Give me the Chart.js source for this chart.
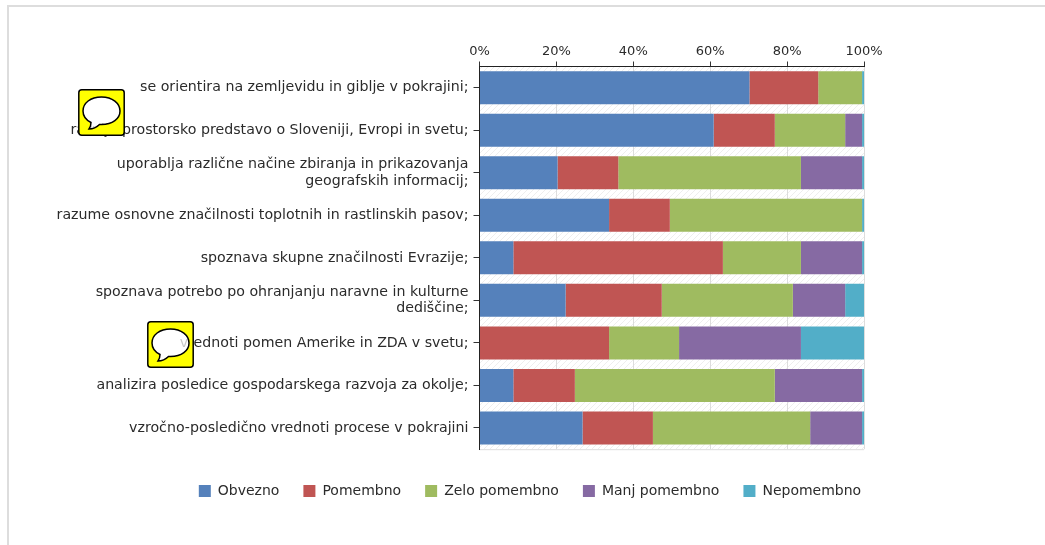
<!DOCTYPE html>
<html>
<head>
<meta charset="utf-8">
<script src="https://cdn.jsdelivr.net/npm/chart.js@4/dist/chart.umd.min.js"></script>
<style>
html, body { margin: 0; padding: 0; background: #fff; overflow: hidden; }
#frame { position: absolute; left: 7px; top: 5px; width: 1038px; height: 540px; border-left: 2px solid #ddd; border-top: 2px solid #ddd; box-sizing: border-box; }
#wrap { position: absolute; left: 15px; top: 0; width: 1030px; height: 545px; }
.note { position: absolute; width: 47px; height: 47px; }
</style>
</head>
<body>
<div id="frame"></div>
<div id="wrap"><canvas id="myChart"></canvas></div>
<svg class="note" style="left:78px;top:89px" viewBox="0 0 47 47"><path fill-rule="evenodd" d="M3.800 .8h39.400a3 3 0 0 1 3 3v39.400a3 3 0 0 1-3 3H3.800a3 3 0 0 1-3-3V3.800a3 3 0 0 1 3-3zM23.500 8C12.500 8 5 14 5 22c0 5 3 9 8 11.500 0 3-1 5-2 6.500 4 0 8-2 10.500-4.500 1 .1 1.500 .1 2 .1 11 0 18.500-6 18.500-13.600S34.500 8 23.500 8z" fill="#ffff00"/><rect x="0.8" y="0.8" width="45.400" height="45.400" rx="3" fill="none" stroke="#000" stroke-width="1.500"/><path d="M23.500 8C12.500 8 5 14 5 22c0 5 3 9 8 11.500 0 3-1 5-2 6.500 4 0 8-2 10.500-4.500 1 .1 1.500 .1 2 .1 11 0 18.500-6 18.500-13.600S34.500 8 23.500 8z" fill="#fff" fill-opacity="0.75" stroke="#000" stroke-width="1.500"/></svg>
<svg class="note" style="left:147px;top:321px" viewBox="0 0 47 47"><path fill-rule="evenodd" d="M3.800 .8h39.400a3 3 0 0 1 3 3v39.400a3 3 0 0 1-3 3H3.800a3 3 0 0 1-3-3V3.800a3 3 0 0 1 3-3zM23.500 8C12.500 8 5 14 5 22c0 5 3 9 8 11.500 0 3-1 5-2 6.500 4 0 8-2 10.500-4.500 1 .1 1.500 .1 2 .1 11 0 18.500-6 18.500-13.600S34.500 8 23.500 8z" fill="#ffff00"/><rect x="0.8" y="0.8" width="45.400" height="45.400" rx="3" fill="none" stroke="#000" stroke-width="1.500"/><path d="M23.500 8C12.500 8 5 14 5 22c0 5 3 9 8 11.500 0 3-1 5-2 6.500 4 0 8-2 10.500-4.500 1 .1 1.500 .1 2 .1 11 0 18.500-6 18.500-13.600S34.500 8 23.500 8z" fill="#fff" fill-opacity="0.75" stroke="#000" stroke-width="1.500"/></svg>
<script>
'use strict';
let categories = [
    'se orientira na zemljevidu in giblje v pokrajini;',
    'razvija prostorsko predstavo o Sloveniji, Evropi in svetu;',
    ['uporablja različne načine zbiranja in prikazovanja', 'geografskih informacij;'],
    'razume osnovne značilnosti toplotnih in rastlinskih pasov;',
    'spoznava skupne značilnosti Evrazije;',
    ['spoznava potrebo po ohranjanju naravne in kulturne', 'dediščine;'],
    'vrednoti pomen Amerike in ZDA v svetu;',
    'analizira posledice gospodarskega razvoja za okolje;',
    'vzročno-posledično vrednoti procese v pokrajini'
];
let obvezno = [70.2, 60.9, 20.3, 33.7, 8.8, 22.4, 0, 8.8, 26.8];
let pomembno = [17.9, 15.9, 15.8, 15.8, 54.5, 25.0, 33.7, 16.0, 18.3];
let zeloPomembno = [11.4, 18.3, 47.5, 50.0, 20.3, 34.1, 18.2, 52.0, 40.9];
let manjPomembno = [0, 4.4, 15.9, 0, 15.9, 13.6, 31.7, 22.7, 13.5];
let nepomembno = [0.5, 0.5, 0.5, 0.5, 0.5, 4.9, 16.4, 0.5, 0.5];
let tickLabels = ['0%', '20%', '40%', '60%', '80%', '100%'];

let fontName = '"DejaVu Sans", sans-serif';
let textColor = '#2b2b2b';

// faint diagonal hatching behind the bars
function hatchPattern(ctx) {
    let c = document.createElement('canvas');
    c.width = 6;
    c.height = 6;
    let p = c.getContext('2d');
    p.strokeStyle = '#eeeeee';
    p.lineWidth = 1;
    p.beginPath();
    p.moveTo(0, 6);
    p.lineTo(6, 0);
    p.stroke();
    return ctx.createPattern(c, 'repeat');
}

let hatchPlugin = {
    id: 'hatch',
    beforeDraw(chart) {
        let a = chart.chartArea;
        let c = chart.ctx;
        c.save();
        c.fillStyle = hatchPattern(c);
        c.fillRect(a.left, a.top, a.width, a.height);
        c.strokeStyle = '#dddddd';
        c.beginPath();
        c.moveTo(a.left, a.bottom + 0.5);
        c.lineTo(a.right, a.bottom + 0.5);
        c.stroke();
        c.restore();
    }
};

function makeSet(label, data, color) {
    return { label: label, data: data, backgroundColor: color, borderWidth: 0, barPercentage: 0.776, categoryPercentage: 1 };
}

let ctx = document.getElementById('myChart').getContext('2d');
let myChart = new Chart(ctx, {
    type: 'bar',
    plugins: [hatchPlugin],
    data: {
        labels: categories,
        datasets: [
            makeSet('Obvezno', obvezno, '#5581bb'),
            makeSet('Pomembno', pomembno, '#c05553'),
            makeSet('Zelo pomembno', zeloPomembno, '#9fbb60'),
            makeSet('Manj pomembno', manjPomembno, '#866aa3'),
            makeSet('Nepomembno', nepomembno, '#52aec8')
        ]
    },
    options: {
        indexAxis: 'y',
        responsive: true,
        maintainAspectRatio: false,
        animation: false,
        layout: { padding: { top: 0, bottom: 37, left: 0, right: 0 } },
        scales: {
            x: {
                position: 'top',
                stacked: true,
                min: 0,
                max: 100,
                afterFit(scale) { scale.height = 66.5; },
                afterBuildTicks(scale) { scale.ticks = tickLabels.map(t => ({ value: parseInt(t) })); },
                ticks: {
                    callback: (v, i) => tickLabels[i],
                    color: textColor,
                    font: { family: fontName, size: 13 },
                    padding: 2,
                    maxRotation: 0
                },
                grid: { color: '#dddddd', tickColor: '#333333', tickLength: 5 },
                border: { color: '#222222', width: 1 }
            },
            y: {
                stacked: true,
                afterFit(scale) { scale.width = 464.5; },
                ticks: {
                    color: textColor,
                    font: { family: fontName, size: 14.2, lineHeight: 1.13 },
                    padding: 5,
                    autoSkip: false
                },
                grid: { offset: false, drawOnChartArea: false, tickColor: '#333333', tickLength: 6 },
                border: { color: '#222222', width: 1 }
            },
            // empty axis, only keeps the room right of the plot so the legend stays centred
            spacer: {
                axis: 'y',
                type: 'category',
                position: 'right',
                afterFit(scale) { scale.width = 181; },
                ticks: { display: false },
                grid: { display: false },
                border: { display: false }
            }
        },
        plugins: {
            tooltip: { enabled: false },
            legend: {
                position: 'bottom',
                title: { display: true, text: ' ', font: { size: 9 }, padding: 0 },
                labels: {
                    boxWidth: 12,
                    boxHeight: 12,
                    padding: 24,
                    color: textColor,
                    font: { family: fontName, size: 14 }
                }
            }
        }
    }
});
</script>
</body>
</html>
